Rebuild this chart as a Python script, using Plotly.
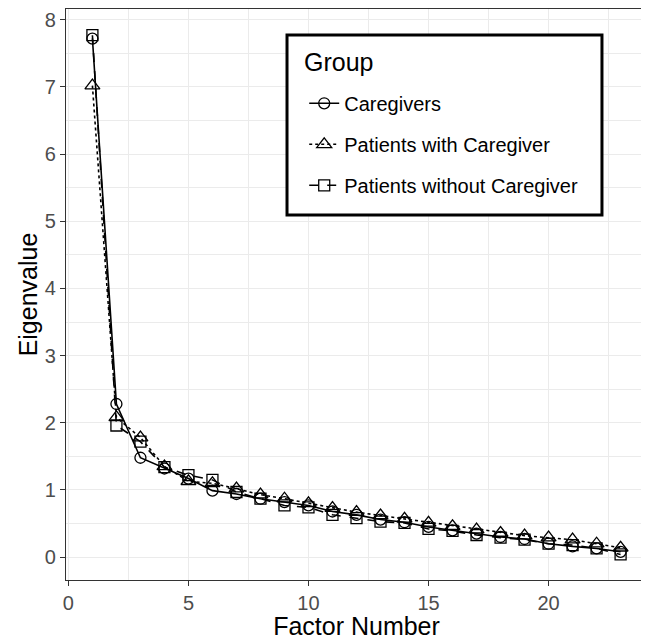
import plotly.graph_objects as go

factor = list(range(1, 24))
caregivers = [7.72, 2.28, 1.48, 1.32, 1.17, 0.99, 0.94, 0.87, 0.82, 0.77, 0.68, 0.63,
              0.56, 0.52, 0.45, 0.40, 0.35, 0.30, 0.27, 0.20, 0.16, 0.13, 0.08]
pat_with = [7.02, 2.08, 1.78, 1.35, 1.13, 1.10, 1.02, 0.93, 0.87, 0.80, 0.73, 0.67,
            0.62, 0.57, 0.51, 0.46, 0.41, 0.36, 0.32, 0.29, 0.26, 0.20, 0.14]
pat_without = [7.77, 1.96, 1.72, 1.34, 1.22, 1.15, 0.97, 0.87, 0.77, 0.74, 0.63, 0.58,
               0.53, 0.51, 0.42, 0.39, 0.33, 0.29, 0.26, 0.20, 0.18, 0.13, 0.04]
names = ["Caregivers", "Patients with Caregiver", "Patients without Caregiver"]
legend_title = "Group"

fig = go.Figure()
styles = [("solid", "circle-open", 11), ("dot", "triangle-up-open", 13), ("dash", "square-open", 11)]
for i, (name, ys) in enumerate(zip(names, [caregivers, pat_with, pat_without])):
    dash, sym, sz = styles[i]
    fig.add_trace(go.Scatter(
        x=factor, y=ys, name=name, mode="lines+markers",
        line=dict(color="black", width=1.6, dash=dash),
        marker=dict(symbol=sym, size=sz, color="black", line=dict(width=1.3, color="black")),
        legendgroup=name,
    ))

# page body has an 8px margin; figure sized to fit the 649x640 window
fig.update_layout(
    width=641, height=632,
    margin=dict(l=58, r=2, t=1, b=60),
    plot_bgcolor="white", paper_bgcolor="white",
    font=dict(family="Liberation Sans, Arial, sans-serif", color="black"),
    showlegend=True,
    legend=dict(
        font=dict(size=20),
        x=0.41, y=0.869, xanchor="left", yanchor="top",
        borderwidth=0, bgcolor="rgba(0,0,0,0)",
        tracegroupgap=12, itemwidth=30,
    ),
    shapes=[dict(type="rect", xref="paper", yref="paper",
                 x0=0.3804, x1=0.9225, y0=0.6392, y1=0.9545,
                 line=dict(color="black", width=3), fillcolor="white", layer="above")],
    annotations=[dict(text=legend_title, xref="paper", yref="paper",
                      x=0.4062, y=0.9072, xanchor="left", yanchor="middle",
                      showarrow=False, font=dict(size=25, color="black"))],
)
fig.update_xaxes(
    range=[-0.1, 24.1], tickvals=[0, 5, 10, 15, 20],
    showgrid=True, gridcolor="#ebebeb", gridwidth=1.1,
    minor=dict(tickvals=[2.5, 7.5, 12.5, 17.5, 22.5], showgrid=True, gridcolor="#ebebeb", gridwidth=0.55),
    showline=True, mirror=True, linecolor="#333333", linewidth=1.1,
    ticks="outside", ticklen=5, tickcolor="#333333",
    tickfont=dict(size=20, color="#4d4d4d"),
    title=dict(text="Factor Number", font=dict(size=25), standoff=5),
    zeroline=False, automargin=False,
)
fig.update_yaxes(
    range=[-0.34, 8.16], tickvals=list(range(0, 9)),
    showgrid=True, gridcolor="#ebebeb", gridwidth=1.1,
    minor=dict(tickvals=[0.5 + k for k in range(-1, 9)], showgrid=True, gridcolor="#ebebeb", gridwidth=0.55),
    showline=True, mirror=True, linecolor="#333333", linewidth=1.1,
    ticks="outside", ticklen=5, tickcolor="#333333",
    tickfont=dict(size=20, color="#4d4d4d"),
    title=dict(text="Eigenvalue", font=dict(size=25), standoff=0),
    zeroline=False, automargin=False,
)
fig.write_html("out.html")
